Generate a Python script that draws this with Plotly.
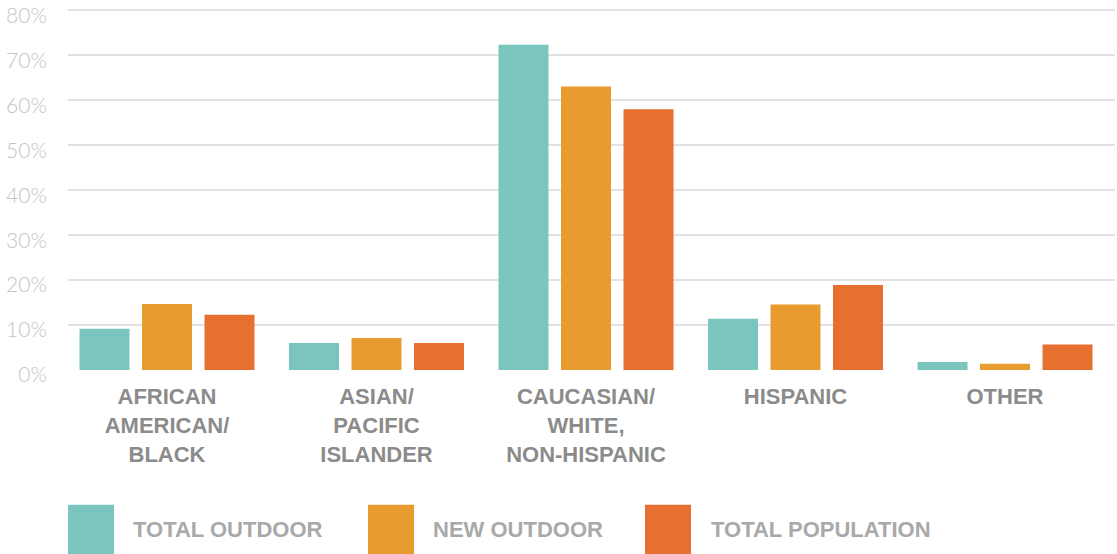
import plotly.graph_objects as go

# Share of each group by race/ethnicity
categories = [
    "AFRICAN<br>AMERICAN/<br>BLACK",
    "ASIAN/<br>PACIFIC<br>ISLANDER",
    "CAUCASIAN/<br>WHITE,<br>NON-HISPANIC",
    "HISPANIC",
    "OTHER",
]
series_names = ["TOTAL OUTDOOR", "NEW OUTDOOR", "TOTAL POPULATION"]
total_outdoor = [9.2, 6.0, 72.4, 11.4, 1.8]
new_outdoor = [14.7, 7.1, 63.1, 14.6, 1.4]
total_population = [12.3, 6.0, 58.0, 18.9, 5.7]
colors = ["#7ac6bf", "#e89c30", "#e6702f"]

y_ticks = [0, 10, 20, 30, 40, 50, 60, 70, 80]
y_tick_text = [f"{v}%" for v in y_ticks]

W, H = 1117, 554
M_L, M_R, M_T, M_B = 68, 2, 6, 183.5

fig = go.Figure()
for name, vals, col in zip(series_names, [total_outdoor, new_outdoor, total_population], colors):
    fig.add_trace(go.Bar(
        x=categories, y=vals, name=name,
        marker=dict(color=col, line=dict(width=0)),
        showlegend=False,
    ))

# Legend drawn as large swatches with labels beneath the chart
plot_h = H - M_T - M_B
plot_w = W - M_L - M_R


def px_to_paper_y(py):
    return (H - M_B - py) / plot_h


def px_to_paper_x(px):
    return (px - M_L) / plot_w


swatch_x = [68, 368, 645]
swatch_w = 46
label_x = [131, 431, 709]
shapes = []
annotations = []
for name, col, sx, lx in zip(series_names, colors, swatch_x, label_x):
    shapes.append(dict(
        type="rect", xref="paper", yref="paper",
        x0=px_to_paper_x(sx), x1=px_to_paper_x(sx + swatch_w),
        y0=px_to_paper_y(505.5), y1=px_to_paper_y(570),
        fillcolor=col, line=dict(width=0), layer="above",
    ))
    annotations.append(dict(
        text=name, xref="paper", yref="paper",
        x=px_to_paper_x(lx), y=px_to_paper_y(530),
        xanchor="left", yanchor="middle", showarrow=False,
        font=dict(family="Liberation Sans, Arial", size=22,
                  color="#a9a9a9", weight="bold"),
    ))

fig.update_layout(
    width=W, height=H,
    margin=dict(l=M_L, r=M_R, t=M_T, b=M_B, pad=0),
    paper_bgcolor="white", plot_bgcolor="white",
    barmode="group", bargap=0.105, bargroupgap=0.2,
    shapes=shapes, annotations=annotations,
    xaxis=dict(
        range=[-0.4726, 4.525],
        showgrid=False, zeroline=False, showline=False,
        ticks="outside", ticklen=7, tickcolor="rgba(0,0,0,0)",
        tickfont=dict(family="Liberation Sans, Arial", size=22, color="#8b8b8b", weight="bold"),
        fixedrange=True,
    ),
    yaxis=dict(
        range=[0, 81],
        tickvals=y_ticks, ticktext=y_tick_text,
        showgrid=True, gridcolor="#e2e2e2", gridwidth=2,
        zeroline=False, showline=False,
        ticks="outside", ticklen=16, tickcolor="rgba(0,0,0,0)",
        ticklabelshift=5,
        tickfont=dict(family="Lato, Roboto, sans-serif", size=21, color="#c4c4c4", weight=300),
        fixedrange=True,
    ),
)

fig.write_html("out.html", config={"displayModeBar": False})
